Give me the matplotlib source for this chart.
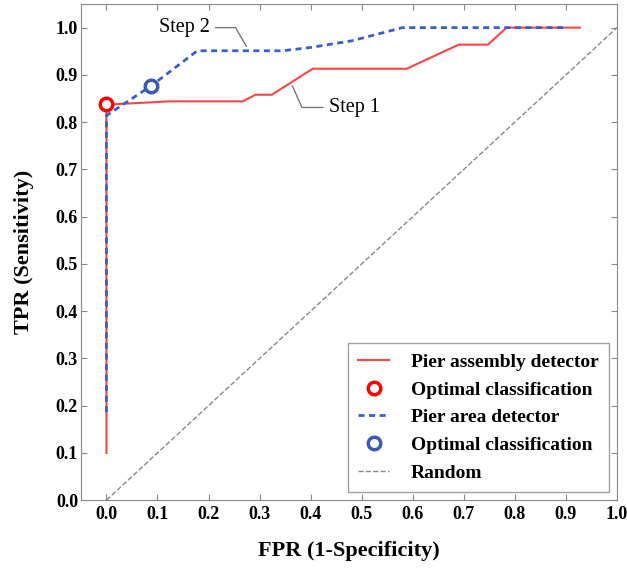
import numpy as np
import matplotlib
matplotlib.use("Agg")
import matplotlib.pyplot as plt

plt.rcParams['font.family'] = ['Liberation Serif', 'DejaVu Serif']

# Pier assembly detector (step 1)
fpr_assembly = [0.0, 0.0, 0.124, 0.267, 0.292, 0.324, 0.404, 0.588, 0.690, 0.747, 0.784, 0.927]
tpr_assembly = [0.10, 0.837, 0.844, 0.844, 0.858, 0.858, 0.913, 0.913, 0.964, 0.964, 1.0, 1.0]
opt_assembly = (0.0, 0.838)

# Pier area detector (step 2)
fpr_area = [0.0, 0.0, 0.088, 0.178, 0.345, 0.40, 0.48, 0.53, 0.58, 0.90]
tpr_area = [0.186, 0.814, 0.877, 0.951, 0.951, 0.958, 0.972, 0.986, 1.0, 1.0]
opt_area = (0.088, 0.877)

ticks = [0.0, 0.1, 0.2, 0.3, 0.4, 0.5, 0.6, 0.7, 0.8, 0.9, 1.0]

fig = plt.figure(figsize=(6.27, 5.71), dpi=100)
ax = fig.add_axes([0.129, 0.124, 0.855, 0.869])

ax.plot(fpr_assembly, tpr_assembly, color='#ff4444', lw=1.5, label='Pier assembly detector')
ax.plot(*opt_assembly, 'o', ms=9, mfc='white', mec='#ff0000', mew=2.5, ls='none',
        label='Optimal classification')
ax.plot(fpr_area, tpr_area, color='#3a5fcd', lw=2, ls=(0, (2.2, 1.6)), label='Pier area detector')
ax.plot(*opt_area, 'o', ms=9, mfc='white', mec='#3a5bb5', mew=2.5, ls='none',
        label='Optimal classification')
ax.plot([0, 1], [0, 1], color='#888888', lw=1, ls='--', label='Random')

ax.annotate('Step 2', xy=(0.277, 0.955), xytext=(0.153, 1.0), fontsize=14.5,
            ha='center', va='center',
            arrowprops=dict(arrowstyle='-', color='#777777', lw=1,
                            connectionstyle='angle,angleA=0,angleB=120,rad=0'))
ax.annotate('Step 1', xy=(0.362, 0.882), xytext=(0.485, 0.831), fontsize=14.5,
            ha='center', va='center',
            arrowprops=dict(arrowstyle='-', color='#777777', lw=1,
                            connectionstyle='angle,angleA=0,angleB=114,rad=0'))

ax.set_xlim(-0.05, 1.0)
ax.set_ylim(0.0, 1.05)
ax.set_xticks(ticks)
ax.set_yticks(ticks)
ax.set_xticklabels(['%.1f' % t for t in ticks], fontweight='bold', fontsize=13)
ax.set_yticklabels(['%.1f' % t for t in ticks], fontweight='bold', fontsize=13)
ax.tick_params(direction='in', top=True, right=True, length=4, color='#888888')
ax.tick_params(axis='x', pad=4)
ax.tick_params(axis='y', pad=2)
for s in ax.spines.values():
    s.set_color('#888888')

ax.set_xlabel('FPR (1-Specificity)', fontsize=16, fontweight='bold', labelpad=13)
ax.set_ylabel('TPR (Sensitivity)', fontsize=16, fontweight='bold', labelpad=16)

leg = ax.legend(loc='lower right', prop={'weight': 'bold', 'size': 14}, fancybox=False,
                edgecolor='#888888', borderaxespad=0.4, borderpad=0.55, handlelength=1.6,
                handletextpad=1.1, labelspacing=0.52)
leg.get_frame().set_linewidth(1)

fig.savefig('out.png', dpi=100)
